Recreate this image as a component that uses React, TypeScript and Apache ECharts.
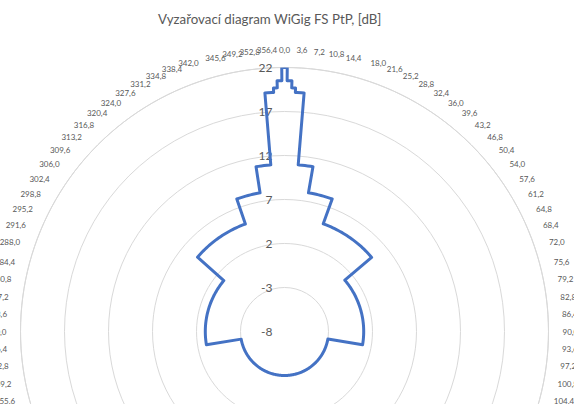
import React, { useEffect, useRef } from "react";
import * as echarts from "echarts";

const titleText = "Vyzařovací diagram WiGig FS PtP, [dB]";

// radial scale (dB)
const radiusMin = -8;
const radiusMax = 22;
const radiusStep = 5;

// angle labels every 3.6 degrees
const angleStep = 3.6;

// Pattern: angles (deg) where the level changes,
// and the level (dB) before the first change, between changes, after the last.
const stepAngles = [0.6, 1.7, 2.6, 4.7, 9.8, 19.8, 49.6, 99.7, 260.4, 310.5, 340.2, 350.2, 355.3, 357.4, 358.3, 359.4];
const stepLevels = [22, 20.5, 19.7, 19.2, 11, 8, 5, 1, -3, 1, 5, 8, 11, 19.2, 19.7, 20.5, 22];

function buildData(): [number, number][] {
  const pts: [number, number][] = [];
  const n = stepAngles.length;
  for (let k = 0; k <= n; k++) {
    const a0 = k === 0 ? 0 : stepAngles[k - 1];
    const a1 = k === n ? 360 : stepAngles[k];
    const v = stepLevels[k];
    pts.push([v, a0]);
    for (let d = Math.ceil(a0); d <= Math.floor(a1); d++) {
      if (d > a0 && d < a1) pts.push([v, d]);
    }
    pts.push([v, a1]);
  }
  return pts;
}

export default function App() {
  const ref = useRef<HTMLDivElement>(null);
  useEffect(() => {
    if (!ref.current) return;
    const chart = echarts.init(ref.current, null, { renderer: "svg" });
    chart.setOption({
      animation: false,
      backgroundColor: "#ffffff",
      title: {
        text: titleText,
        left: 153,
        top: 7,
        textStyle: {
          fontFamily: "Lato",
          fontSize: 13.3,
          fontWeight: "normal",
          color: "#595959",
        },
      },
      polar: {
        center: [284.5, 331.5],
        radius: 264,
      },
      angleAxis: {
        type: "value",
        min: 0,
        max: 360,
        interval: angleStep,
        startAngle: 90,
        clockwise: true,
        axisLine: { show: true, lineStyle: { color: "#D9D9D9", width: 1 } },
        axisTick: { show: false },
        splitLine: { show: false },
        axisLabel: {
          margin: 14,
          fontFamily: "Lato",
          fontSize: 8,
          color: "#595959",
          formatter: (v: number) => (v >= 359.95 ? "" : v.toFixed(1).replace(".", ",")),
        },
      },
      radiusAxis: {
        type: "value",
        min: radiusMin,
        max: radiusMax,
        interval: radiusStep,
        axisLine: { show: false },
        axisTick: { show: false },
        splitLine: { show: true, lineStyle: { color: "#D9D9D9", width: 1 } },
        axisLabel: {
          fontFamily: "Lato",
          fontSize: 12,
          color: "#595959",
          margin: 12,
        },
      },
      series: [
        {
          type: "line",
          coordinateSystem: "polar",
          data: buildData(),
          showSymbol: false,
          symbol: "none",
          smooth: false,
          clip: false,
          lineStyle: { color: "#4472C4", width: 3, join: "round" },
          silent: true,
        },
      ],
    });
    return () => chart.dispose();
  }, []);
  return (
    <div
      ref={ref}
      style={{ position: "absolute", left: 0, top: 0, width: 574, height: 404 }}
    />
  );
}
